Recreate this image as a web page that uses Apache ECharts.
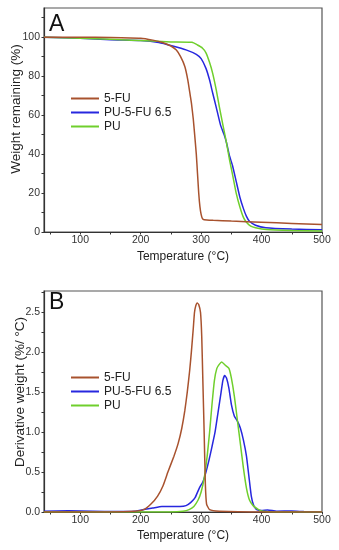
<!DOCTYPE html>
<html>
<head>
<meta charset="utf-8">
<script src="https://cdn.jsdelivr.net/npm/echarts@6/dist/echarts.min.js"></script>
<style>html,body{margin:0;padding:0;background:#fff}#c{width:339px;height:550px}</style>
</head>
<body>
<div id="c"></div>
<script>
// ---- Data ----
var seriesNames = ['5-FU', 'PU-5-FU 6.5', 'PU'];
var xTickLabels = [100, 200, 300, 400, 500];
var xTicks = [50, 100, 150, 200, 250, 300, 350, 400, 450, 500];
var yTickLabelsA = [0, 20, 40, 60, 80, 100];
var yTicksA = [0, 10, 20, 30, 40, 50, 60, 70, 80, 90, 100, 110];
var yTickLabelsB = [0, 0.5, 1.0, 1.5, 2.0, 2.5];
var yTicksB = [0, 0.25, 0.5, 0.75, 1.0, 1.25, 1.5, 1.75, 2.0, 2.25, 2.5, 2.75];

// Panel A: weight remaining (%)
var tga5FU = [[40,100],[100,100],[150,99.9],[200,99.5],[220,98.5],[236,97.3],[250,95.5],[259,93.4],[266,90],[273,85],[278,78],[282,70],[284,66],[287,58],[289,51],[292,40],[294,30],[296,20],[298,13],[300,9],[302,7],[305,6.3],[320,6],[350,5.6],[400,5],[450,4.4],[500,3.8]];
var tgaPU5FU = [[40,100],[100,99.5],[150,98.7],[200,98.3],[230,97.3],[253,95.5],[275,93.5],[292,91.2],[300,89],[308,84],[314,78],[319,71.5],[325,64],[332,55],[338,50],[342,45.8],[347,39],[352,34],[358,26],[364,18],[370,12],[375,8],[380,5.5],[390,3.5],[407,2.2],[450,1.5],[500,1.1]];
var tgaPU = [[40,100],[100,99.5],[150,99],[220,98],[250,97.6],[285,97.4],[294,96],[302,94.5],[308,92],[314,87],[319,81.6],[325,73],[330,64.5],[336,55],[342,45.8],[347,37],[352,29.5],[358,20],[364,13],[370,7.5],[375,5],[382,3],[390,2.2],[408,1.3],[450,0.8],[500,0.5]];

// Panel B: derivative weight (%/°C)
var dtg5FU = [[40,0],[100,0],[150,0],[190,0.01],[205,0.03],[217,0.1],[228,0.2],[237,0.33],[245,0.5],[255,0.7],[262,0.86],[268,1.05],[273,1.27],[277,1.5],[281,1.77],[284,2.02],[287,2.3],[289,2.5],[291,2.58],[293.5,2.62],[296,2.6],[299,2.5],[301,2.2],[303,1.6],[305,1.0],[307,0.35],[309,0.1],[314,0.03],[330,0.01],[400,0],[500,0]];
var dtgPU5FU = [[40,0.01],[80,0.015],[120,0.01],[160,0.005],[190,0.01],[205,0.03],[220,0.05],[235,0.07],[250,0.07],[265,0.07],[275,0.08],[283,0.12],[290,0.18],[297,0.3],[303,0.38],[308,0.5],[313,0.65],[318,0.82],[323,1.0],[328,1.25],[333,1.5],[336,1.65],[339,1.71],[342,1.68],[346,1.55],[350,1.35],[355,1.2],[360,1.14],[365,1.05],[370,0.9],[375,0.7],[379,0.45],[383,0.2],[387,0.08],[392,0.03],[400,0.02],[410,0.025],[425,0.01],[450,0.012],[470,0.005],[500,0]];
var dtgPU = [[40,0],[200,0],[250,0],[270,0.01],[280,0.03],[288,0.07],[295,0.15],[300,0.25],[305,0.42],[310,0.7],[314,1.0],[318,1.35],[322,1.65],[326,1.8],[330,1.85],[334,1.88],[340,1.84],[346,1.8],[350,1.68],[355,1.45],[360,1.15],[365,0.85],[370,0.55],[375,0.3],[380,0.15],[386,0.08],[395,0.03],[402,0.01],[420,0],[500,0]];

var colors = ['#a8522e', '#2727de', '#6fcf2c'];
var FONT = 'Liberation Sans, Arial, sans-serif';

function xAxis(gridIndex, gap) {
  return {
    type: 'value', gridIndex: gridIndex, min: 40, max: 500,
    name: 'Temperature (°C)', nameLocation: 'middle', nameGap: gap,
    nameTextStyle: {fontSize: 12, color: '#222', fontFamily: FONT},
    axisLine: {show: true, onZero: false, lineStyle: {color: '#333', width: 1.2}},
    axisTick: {show: true, inside: false, length: 2.5, customValues: xTicks, lineStyle: {color: '#333'}},
    axisLabel: {customValues: xTickLabels, fontSize: 10.5, color: '#333', margin: 3, fontFamily: FONT},
    splitLine: {show: false}
  };
}
function yAxis(gridIndex, max, labels, ticks, fmt) {
  return {
    type: 'value', gridIndex: gridIndex, min: 0, max: max,
    axisLine: {show: true, onZero: false, lineStyle: {color: '#333', width: 1.2}},
    axisTick: {show: true, inside: false, length: 2.5, customValues: ticks, lineStyle: {color: '#333'}},
    axisLabel: {customValues: labels, fontSize: 10.5, color: '#333', margin: 4, fontFamily: FONT, formatter: fmt},
    splitLine: {show: false}
  };
}
function line(name, data, idx, color) {
  return {
    name: name, type: 'line', data: data, xAxisIndex: idx, yAxisIndex: idx,
    showSymbol: false, smooth: 0.15, color: color,
    lineStyle: {width: 1.5, color: color}, z: name === '5-FU' ? 4 : (name === 'PU' ? 3 : 2)
  };
}
function legend(top) {
  return {
    data: seriesNames, orient: 'vertical', left: 66, top: top,
    icon: 'rect', itemWidth: 28, itemHeight: 2, itemGap: 1,
    textStyle: {fontSize: 12, color: '#222', fontFamily: FONT, lineHeight: 13}
  };
}

var chart = echarts.init(document.getElementById('c'), null, {renderer: 'canvas'});
chart.setOption({
  animation: false,
  backgroundColor: '#fff',
  grid: [
    {left: 44, right: 17, top: 8, height: 224, show: true, borderColor: '#555', borderWidth: 1.2, containLabel: false},
    {left: 44, right: 17, top: 291, height: 221, show: true, borderColor: '#555', borderWidth: 1.2, containLabel: false}
  ],
  xAxis: [xAxis(0, 19), xAxis(1, 18)],
  yAxis: [
    yAxis(0, 115, yTickLabelsA, yTicksA, function (v) { return String(v); }),
    yAxis(1, 2.77, yTickLabelsB, yTicksB, function (v) { return v.toFixed(1); })
  ],
  legend: [legend(87), legend(366)],
  series: [
    line(seriesNames[0], tga5FU, 0, colors[0]),
    line(seriesNames[1], tgaPU5FU, 0, colors[1]),
    line(seriesNames[2], tgaPU, 0, colors[2]),
    line(seriesNames[0], dtg5FU, 1, colors[0]),
    line(seriesNames[1], dtgPU5FU, 1, colors[1]),
    line(seriesNames[2], dtgPU, 1, colors[2])
  ],
  graphic: [
    {type: 'text', left: 49, top: 13, style: {text: 'A', fontSize: 23, fill: '#111', fontFamily: FONT}},
    {type: 'text', left: 49, top: 291, style: {text: 'B', fontSize: 23, fill: '#111', fontFamily: FONT}},
    {type: 'text', x: 16, y: 109, rotation: Math.PI / 2, style: {text: 'Weight remaining (%)', fontSize: 13.5, fill: '#222', fontFamily: FONT, align: 'center', verticalAlign: 'middle'}},
    {type: 'text', x: 20, y: 392, rotation: Math.PI / 2, style: {text: 'Derivative weight (%/ °C)', fontSize: 13.5, fill: '#222', fontFamily: FONT, align: 'center', verticalAlign: 'middle'}}
  ]
});
</script>
</body>
</html>
